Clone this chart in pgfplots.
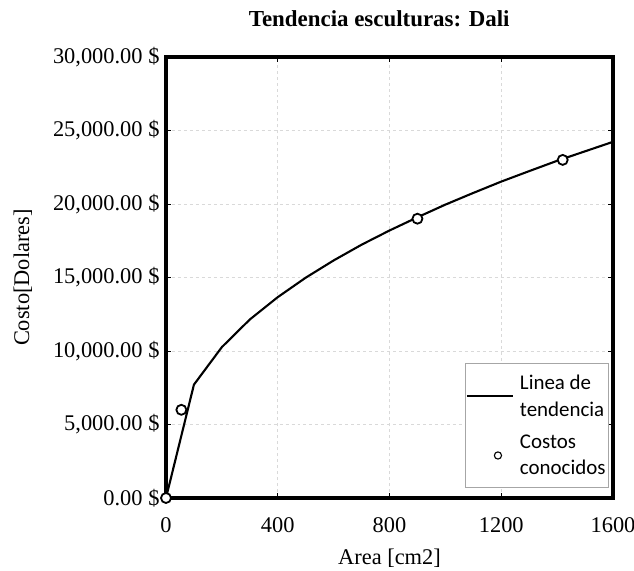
\documentclass[border=0pt]{standalone}
\usepackage{fontspec}
\setmainfont{Liberation Serif}
\newfontfamily\legfont{Carlito}
\usepackage{pgfplots}
\pgfplotsset{compat=1.18}
\begin{document}
\begin{tikzpicture}
\useasboundingbox (-166bp,-73bp) rectangle (468bp,498bp);
\begin{axis}[
  at={(0,0)}, anchor=south west,
  scale only axis, width=447bp, height=441bp,
  xmin=0, xmax=1600, ymin=0, ymax=30000,
  clip=false,
  xtick={0,400,800,1200,1600},
  xticklabels={0,400,800,1200,1600},
  ytick={0,5000,10000,15000,20000,25000,30000},
  yticklabels={{0.00 \$},{5,000.00 \$},{10,000.00 \$},{15,000.00 \$},{20,000.00 \$},{25,000.00 \$},{30,000.00 \$}},
  scaled ticks=false,
  tick align=inside, major tick length=5bp,
  tick style={black, line width=0.8bp},
  axis line style={black},
  grid=major, major grid style={dashed, gray!30, line width=0.6bp},
  ticklabel style={font=\fontsize{22.5}{26}\selectfont},
  xticklabel style={yshift=-16bp},
  yticklabel style={xshift=-3bp},
  xlabel={Area [cm2]}, ylabel={Costo[Dolares]},
  label style={font=\fontsize{22.5}{26}\selectfont},
  xlabel style={at={(axis description cs:0.5,-0.136)}, anchor=center},
  ylabel style={at={(axis description cs:-0.32,0.5)}, anchor=center, rotate=0},
  title={Tendencia esculturas: Dali},
  title style={at={(axis description cs:0.477,1.074)}, anchor=center, font=\bfseries\fontsize{23}{26}\selectfont},
  legend style={at={(0.991,0.023)}, anchor=south east, draw=gray!70, line width=0.8bp, fill=white,
    font=\legfont\fontsize{21}{27}\selectfont, cells={align=left, anchor=west}, row sep=13bp,
    column sep=4bp, inner xsep=1bp, inner ysep=9bp},
]
\draw[black, line width=3.4bp] (rel axis cs:0,0) rectangle (rel axis cs:1,1);
\addplot[black, line width=2.1bp, mark=none,
  legend image code/.code={\draw[black, line width=2.1bp] (0bp,0bp) -- (46bp,0bp);}]
  coordinates {
  (0,0) (100,7712) (200,10265) (300,12143) (400,13663) (500,14986) (600,16160)
  (700,17230) (800,18197) (900,19095) (1000,19958) (1100,20753) (1200,21524)
  (1300,22237) (1400,22939) (1500,23584) (1600,24229)};
\addlegendentry{Linea de\\tendencia}
\addplot[only marks, mark=*, mark size=5bp, mark options={draw=black, fill=white, line width=1.8bp},
  legend image code/.code={\path[draw=none] (0bp,0bp) -- (46bp,0bp); \draw[black, fill=white, line width=1.1bp] (31bp,0bp) circle (3.6bp);}]
  coordinates {(0,0) (55,6000) (900,19000) (1420,23000)};
\addlegendentry{Costos\\conocidos}
\end{axis}
\end{tikzpicture}
\end{document}
